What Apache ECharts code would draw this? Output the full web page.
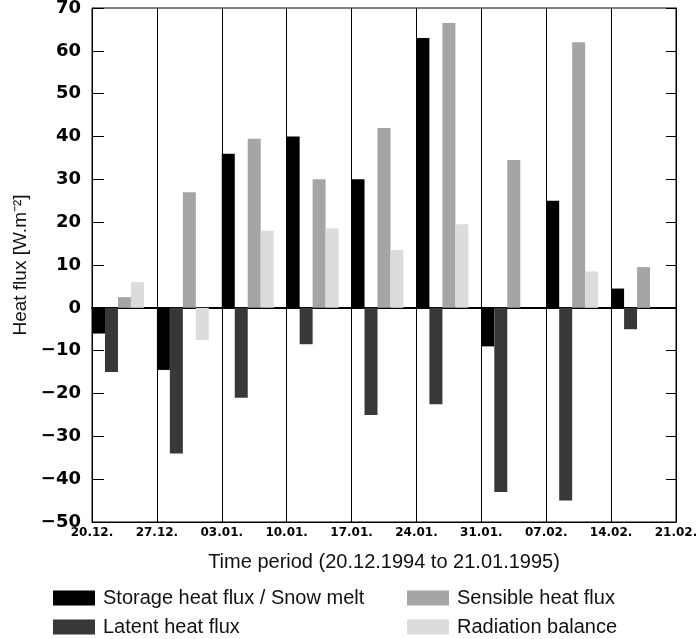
<!DOCTYPE html>
<html>
<head>
<meta charset="utf-8">
<script src="https://cdn.jsdelivr.net/npm/echarts@6/dist/echarts.min.js"></script>
<style>
  html, body { margin: 0; padding: 0; background: #fff; }
  #chart { width: 696px; height: 639px; }
</style>
</head>
<body>
<div id="chart"></div>
<script>
// period boundaries (tick labels) and the 9 weekly periods
const tickLabels = ['20.12.', '27.12.', '03.01.', '10.01.', '17.01.', '24.01.', '31.01.', '07.02.', '14.02.', '21.02.']
const periods = tickLabels.slice(0, 9)

// heat flux values [W.m-2] per period
const storage = [-6, -14.5, 36, 40, 30, 63, -9, 25, 4.5]
const latent = [-15, -34, -21, -8.5, -25, -22.5, -43, -45, -5]
const sensible = [2.5, 27, 39.5, 30, 42, 66.5, 34.5, 62, 9.5]
const radiation = [6, -7.5, 18, 18.5, 13.5, 19.5, null, 8.5, null]

const names = ['Storage heat flux / Snow melt', 'Latent heat flux', 'Sensible heat flux', 'Radiation balance']
const colors = ['#000000', '#383838', '#a5a5a5', '#dcdcdc']

const chart = echarts.init(document.getElementById('chart'))

const bar = (name, data, color) => ({
  name: name,
  type: 'bar',
  data: data,
  xAxisIndex: 0,
  barGap: '0%',
  barCategoryGap: '0%',
  itemStyle: { color: color },
  emphasis: { disabled: true }
})

const series = [
  bar(names[0], storage, colors[0]),
  bar(names[1], latent, colors[1]),
  bar(names[2], sensible, colors[2]),
  bar(names[3], radiation, colors[3]),
  // empty slot so the four bars sit on the left of each period
  bar('', [], 'transparent')
]

const legendText = { fontFamily: 'Liberation Sans', fontSize: 20, lineHeight: 20, color: '#111', padding: [0, 0, 0, 3] }
const legendBase = { orient: 'vertical', top: 583, height: 60, itemWidth: 42, itemHeight: 15, itemGap: 9, icon: 'rect', textStyle: legendText }

const option = {
  animation: false,
  textStyle: { fontFamily: 'Liberation Sans' },
  grid: { left: 92, right: 20, top: 8, bottom: 117, show: true, borderColor: '#000', borderWidth: 1, outerBoundsMode: 'none', containLabel: false },
  legend: [
    Object.assign({ data: [names[0], names[1]], left: 48 }, legendBase),
    Object.assign({ data: [names[2], names[3]], left: 402 }, legendBase)
  ],
  xAxis: [
    {
      type: 'category',
      data: periods,
      position: 'bottom',
      axisLine: { show: true, onZero: true, lineStyle: { color: '#000', width: 2 } },
      axisTick: { show: false },
      axisLabel: { show: false },
      splitLine: { show: false }
    },
    {
      type: 'category',
      data: tickLabels,
      boundaryGap: false,
      position: 'bottom',
      axisLine: { show: true, onZero: false, lineStyle: { color: '#000', width: 1 } },
      axisTick: { show: false },
      axisLabel: { interval: 0, fontFamily: 'DejaVu Sans', fontWeight: 'bold', fontSize: 12, color: '#000', margin: 5 },
      splitLine: { show: true, interval: 0, lineStyle: { color: '#000', width: 1 } },
      name: 'Time period (20.12.1994 to 21.01.1995)',
      nameLocation: 'middle',
      nameGap: 30,
      nameTextStyle: { fontFamily: 'Liberation Sans', fontSize: 20, color: '#111' }
    }
  ],
  yAxis: [
    {
      type: 'value',
      min: -50,
      max: 70,
      interval: 10,
      position: 'left',
      axisLine: { show: true, lineStyle: { color: '#000' } },
      axisTick: { show: true, inside: true, length: 12, lineStyle: { color: '#000' } },
      axisLabel: {
        fontFamily: 'DejaVu Sans', fontWeight: 'bold', fontSize: 18, color: '#000', margin: 11,
        formatter: v => (v < 0 ? '\u2212' + Math.abs(v) : String(v))
      },
      splitLine: { show: false },
      name: 'Heat flux [W.m\u207B\u00B2]',
      nameLocation: 'middle',
      nameRotate: 90,
      nameGap: 55,
      nameTextStyle: { fontFamily: 'Liberation Sans', fontSize: 19, color: '#111' }
    },
    {
      type: 'value',
      min: -50,
      max: 70,
      interval: 10,
      position: 'right',
      axisLine: { show: true, lineStyle: { color: '#000' } },
      axisTick: { show: true, inside: true, length: 10, lineStyle: { color: '#000' } },
      axisLabel: { show: false },
      splitLine: { show: false }
    }
  ],
  series: series
}

chart.setOption(option)
</script>
</body>
</html>
